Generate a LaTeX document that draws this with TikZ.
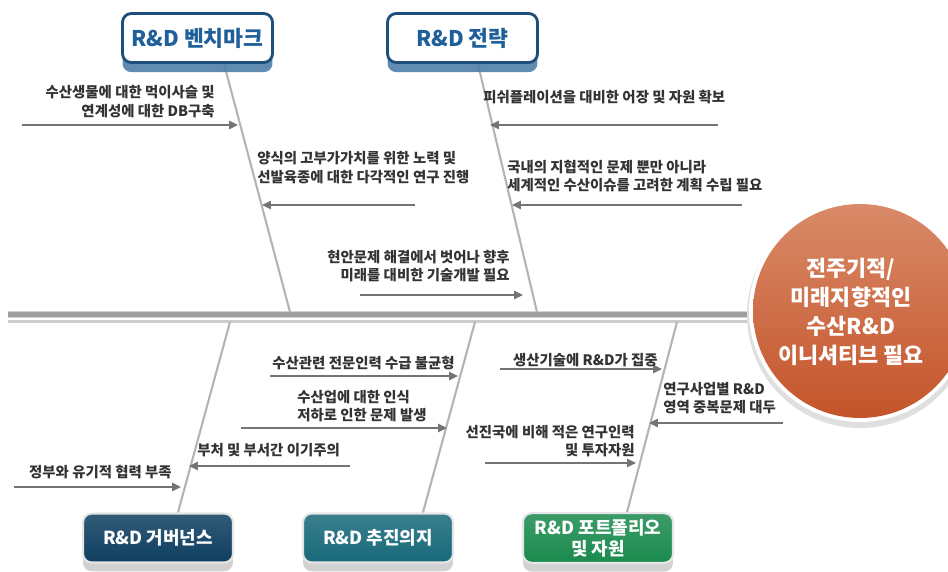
\documentclass[tikz,border=0pt]{standalone}
\usepackage{fontspec}
\setmainfont{Noto Sans CJK KR}
\usetikzlibrary{arrows.meta,shadows}

\definecolor{titleblue}{HTML}{1F5F9A}
\definecolor{frameblue}{HTML}{1E4F7A}
\definecolor{shadowblue}{HTML}{4F7FA8}
\definecolor{govnavy}{HTML}{0E3E60}
\definecolor{pushteal}{HTML}{17697A}
\definecolor{portgreen}{HTML}{1A8A4E}
\definecolor{goallight}{HTML}{D98A68}
\definecolor{goaldark}{HTML}{C4542A}
\definecolor{bonegray}{HTML}{B4B4B4}
\definecolor{causegray}{HTML}{747474}
\definecolor{textgray}{HTML}{333333}

\tikzset{
  bone/.style={draw=bonegray, line width=1.2pt},
  cause/.style={draw=causegray, line width=1.7pt, -{Triangle[length=5pt,width=4.5pt]}},
  causetext/.style={font=\fontsize{8.2}{10.4}\selectfont\bfseries, text=textgray, inner sep=0pt},
  topbox/.style={draw=frameblue, line width=1.6pt, fill=white, rounded corners=5pt,
    minimum width=3cm, minimum height=0.98cm, text=titleblue,
    font=\fontsize{12.3}{14}\selectfont\bfseries,
    drop shadow={shadow xshift=0pt, shadow yshift=-5.5pt, fill=shadowblue, opacity=0.9}},
  botbox/.style={top color=#1!85!white, bottom color=#1, draw=gray!20, line width=1.2pt,
    rounded corners=5pt, minimum width=3cm, minimum height=0.98cm, text=white, align=center,
    font=\fontsize{10.2}{12}\selectfont\bfseries,
    drop shadow={shadow xshift=0pt, shadow yshift=-5pt, fill=gray!35, opacity=1}},
}

\begin{document}
\begin{tikzpicture}[x=0.02cm, y=-0.02cm]

\useasboundingbox (0,0) rectangle (948,572);
\clip (0,0) rectangle (948,572);

% Spine
\coordinate (spineL) at (8,314.5);
\coordinate (spineR) at (760,314.5);
\coordinate (baseL) at (8,321.5);
\coordinate (baseR) at (760,321.5);
\draw[line width=4pt, gray!35] (spineL) -- (spineR);
\draw[line width=2.6pt, gray!75] (spineL) -- (spineR);
\draw[line width=1.2pt, gray!40] (baseL) -- (baseR);

% Bones
\coordinate (benchtop) at (223,60);
\coordinate (benchfoot) at (290,312);
\coordinate (strattop) at (477,60);
\coordinate (stratfoot) at (537,312);
\coordinate (govhead) at (230,322);
\coordinate (govfoot) at (177,516);
\coordinate (pushhead) at (475,322);
\coordinate (pushfoot) at (422,516);
\coordinate (porthead) at (677,322);
\coordinate (portfoot) at (626,516);
\draw[bone] (benchtop) -- (benchfoot);
\draw[bone] (strattop) -- (stratfoot);
\draw[bone] (govhead) -- (govfoot);
\draw[bone] (pushhead) -- (pushfoot);
\draw[bone] (porthead) -- (portfoot);

% Category boxes
\node[topbox] (bench) at (197.5,38) {R\&D 벤치마크};
\node[topbox] (strategy) at (462.5,38) {R\&D 전략};
\node[botbox=govnavy] (gov) at (158,538) {R\&D 거버넌스};
\node[botbox=pushteal] (push) at (378,538) {R\&D 추진의지};
\node[botbox=portgreen] (port) at (598,538) {R\&D 포트폴리오\\및 자원};

% Goal circle
\fill[gray!25] (860,315) circle (113);
\fill[white] (860,311) circle (111);
\node[circle, minimum size=4.28cm, inner sep=0pt, top color=goallight, bottom color=goaldark] (goal) at (860,311) {};
\node[font=\fontsize{12.4}{16.6}\selectfont\bfseries, text=white, align=center] (goaltext) at (851,312)
  {전주기적/\\미래지향적인\\수산R\&D\\이니셔티브 필요};

% Causes, upper half
\coordinate (dbS) at (22,125);      \coordinate (dbE) at (238,125);
\coordinate (breedS) at (415,205);  \coordinate (breedE) at (262,205);
\coordinate (futureS) at (360,295); \coordinate (futureE) at (523,295);
\coordinate (fishS) at (718,125);   \coordinate (fishE) at (490,125);
\coordinate (globalS) at (742,205); \coordinate (globalE) at (512,205);
\draw[cause] (dbS) -- (dbE);
\draw[cause] (breedS) -- (breedE);
\draw[cause] (futureS) -- (futureE);
\draw[cause] (fishS) -- (fishE);
\draw[cause] (globalS) -- (globalE);

\node[causetext, anchor=east, align=right] (db) at (215,101.5)
  {수산생물에 대한 먹이사슬 및\\연계성에 대한 DB구축};
\node[causetext, anchor=west, align=left] (breed) at (257,167.5)
  {양식의 고부가가치를 위한 노력 및\\선발육종에 대한 다각적인 연구 진행};
\node[causetext, anchor=east, align=right] (future) at (510,266)
  {현안문제 해결에서 벗어나 향후\\미래를 대비한 기술개발 필요};
\node[causetext, anchor=west] (fish) at (483,97)
  {피쉬플레이션을 대비한 어장 및 자원 확보};
\node[causetext, anchor=west, align=left] (global) at (507,176)
  {국내의 지협적인 문제 뿐만 아니라\\세계적인 수산이슈를 고려한 계획 수립 필요};

% Causes, lower half
\coordinate (staffS) at (270,376);  \coordinate (staffE) at (458,376);
\coordinate (viewS) at (241,428);   \coordinate (viewE) at (447,428);
\coordinate (egoS) at (350,466);    \coordinate (egoE) at (189,466);
\coordinate (coopS) at (14,487);    \coordinate (coopE) at (181,487);
\coordinate (prodS) at (500,369);   \coordinate (prodE) at (662,369);
\coordinate (overS) at (783,423);   \coordinate (overE) at (649,423);
\coordinate (fundS) at (485,463);   \coordinate (fundE) at (636,463);
\draw[cause] (staffS) -- (staffE);
\draw[cause] (viewS) -- (viewE);
\draw[cause] (egoS) -- (egoE);
\draw[cause] (coopS) -- (coopE);
\draw[cause] (prodS) -- (prodE);
\draw[cause] (overS) -- (overE);
\draw[cause] (fundS) -- (fundE);

\node[causetext, anchor=east] (staff) at (455,363) {수산관련 전문인력 수급 불균형};
\node[causetext, anchor=west, align=left] (view) at (297,406)
  {수산업에 대한 인식\\저하로 인한 문제 발생};
\node[causetext, anchor=west] (ego) at (197,450) {부처 및 부서간 이기주의};
\node[causetext, anchor=east] (coop) at (172,472) {정부와 유기적 협력 부족};
\node[causetext, anchor=east] (prod) at (658,360) {생산기술에 R\&D가 집중};
\node[causetext, anchor=west, align=left] (over) at (663,398)
  {연구사업별 R\&D\\영역 중복문제 대두};
\node[causetext, anchor=east, align=right] (fund) at (635,441)
  {선진국에 비해 적은 연구인력\\및 투자자원};

\end{tikzpicture}
\end{document}
